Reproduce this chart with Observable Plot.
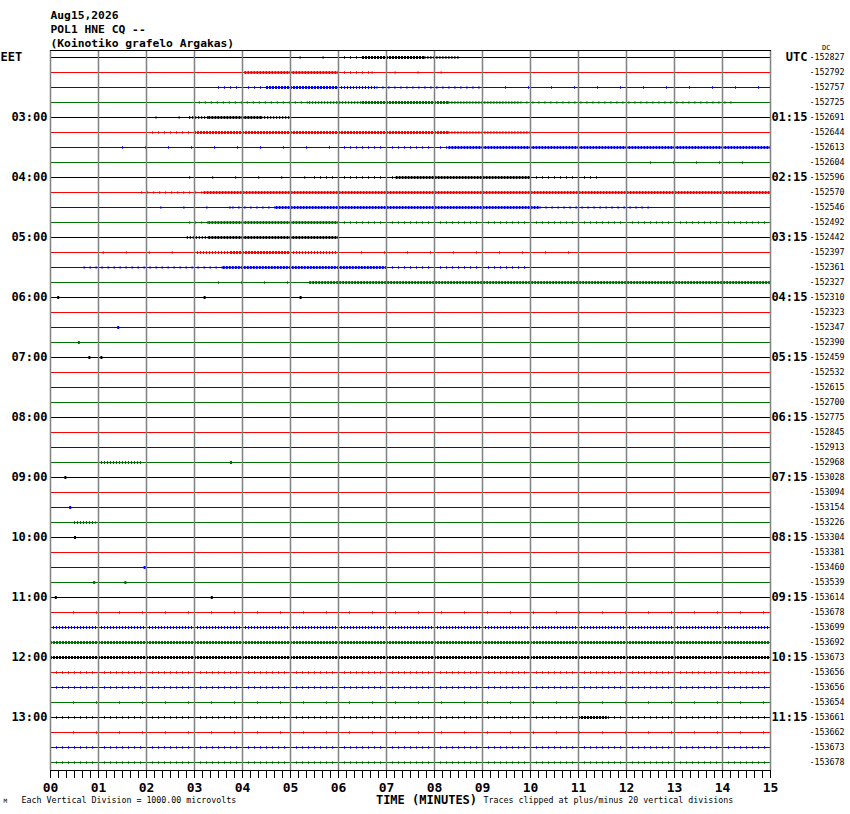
<!DOCTYPE html>
<html>
<head>
<meta charset="utf-8">
<script src="https://cdn.jsdelivr.net/npm/d3@7"></script>
<script src="https://cdn.jsdelivr.net/npm/@observablehq/plot@0.6"></script>
<style>
  html, body { margin: 0; padding: 0; background: #fff; }
  #chart { width: 850px; height: 814px; }
</style>
</head>
<body>
<div id="chart"></div>
<script>
// ---- data ----
const titleLines = ["Aug15,2026", "POL1 HNE CQ --", "(Koinotiko grafelo Argakas)"];
const traceColors = ["#000000", "#ff0000", "#0000ff", "#007000"];
const dcValues = [-152827,-152792,-152757,-152725,-152691,-152644,-152613,-152604,
  -152596,-152570,-152546,-152492,-152442,-152397,-152361,-152327,
  -152310,-152323,-152347,-152390,-152459,-152532,-152615,-152700,
  -152775,-152845,-152913,-152968,-153028,-153094,-153154,-153226,
  -153304,-153381,-153460,-153539,-153614,-153678,-153699,-153692,
  -153673,-153656,-153656,-153654,-153661,-153662,-153673,-153678];
const hourRows = [0,4,8,12,16,20,24,28,32,36,40,44];
const eetLabels = ["EET","03:00","04:00","05:00","06:00","07:00","08:00","09:00","10:00","11:00","12:00","13:00"];
const utcLabels = ["UTC","01:15","02:15","03:15","04:15","05:15","06:15","07:15","08:15","09:15","10:15","11:15"];
const minuteLabels = ["00","01","02","03","04","05","06","07","08","09","10","11","12","13","14","15"];
// activity segments: [trace row, start minute, end minute, density level 0..3]
const activity = [
 [0,5.2,6.0,0],[0,6.0,6.5,1],[0,6.5,7.8,3],[0,7.8,8.55,2],
 [1,4.05,6.0,3],[1,6.0,6.7,1],[1,6.7,8.3,0],
 [2,3.5,4.5,1],[2,4.5,6.0,3],[2,6.0,6.8,2],[2,6.8,9.0,1],[2,9.0,14.8,0],
 [3,3.1,5.4,1],[3,5.4,6.5,2],[3,6.5,8.3,3],[3,8.3,9.8,2],[3,9.8,14.2,1],
 [4,2.2,2.9,0],[4,2.9,3.3,2],[4,3.3,4.4,3],[4,4.4,5.0,2],
 [5,2.0,3.0,1],[5,3.0,8.3,3],[5,8.3,10.0,2],
 [6,1.5,6.0,0],[6,6.0,8.3,1],[6,8.3,15,3],
 [7,12.5,14.5,0],
 [8,2.9,5.5,0],[8,5.5,7.2,1],[8,7.2,10.0,3],[8,10.0,11.5,1],
 [9,1.9,3.2,1],[9,3.2,15,3],
 [10,2.3,3.8,0],[10,3.8,4.7,1],[10,4.7,10.2,3],[10,10.2,12.5,1],
 [11,2.9,3.3,1],[11,3.3,6.0,3],[11,6.0,15,1],
 [12,2.85,3.3,2],[12,3.3,6.0,3],
 [13,1.1,3.0,0],[13,3.0,3.75,2],[13,3.75,5.0,3],[13,5.0,6.0,2],[13,6.0,11.0,0],
 [14,0.7,3.6,1],[14,3.6,7.0,3],[14,7.0,10.0,1],
 [15,3.5,5.4,0],[15,5.4,15,3],
 [16,0.15,0.2,3],[16,3.2,3.25,3],[16,5.2,5.25,3],
 [18,1.4,1.45,3],[19,0.58,0.63,3],[20,0.8,0.85,3],[20,1.05,1.1,3],
 [27,1.0,1.9,2],[27,3.75,3.8,3],
 [28,0.3,0.35,3],[30,0.4,0.45,3],[31,0.5,0.95,2],[32,0.5,0.55,3],
 [34,1.95,2.0,3],[35,0.9,0.95,3],[35,1.55,1.6,3],[36,0.1,0.15,3],[36,3.35,3.4,3],
 [37,0,15,0],[38,0,15,2],[39,0,15,3],[40,0,15,3],[41,0,15,1],[42,0,15,1],
 [43,0,15,0],[44,0,15,1],[44,11.0,11.6,3],[45,0,15,0],[46,0,15,1],[47,0,15,1]
];

// ---- derived tables ----
const rows = d3.range(dcValues.length);
const hours = hourRows.map((r, i) => ({row: r, eet: eetLabels[i], utc: utcLabels[i]}));
const segs = activity.map(([row, x0, x1, level]) => ({row, x0, x1, level, color: traceColors[row % 4]}));
const levelStyle = {
  3: {strokeWidth: 3, strokeDasharray: "2 1"},
  2: {strokeWidth: 3, strokeDasharray: "1 2"},
  1: {strokeWidth: 2.5, strokeDasharray: "1 5"},
  0: {strokeWidth: 2.5, strokeDasharray: "1 22"}
};
const mono = "DejaVu Sans Mono, monospace";
const off = 7 / 15;
const T = {fill: "#000", lineAnchor: "middle"};

const chart = Plot.plot({
  width: 850,
  height: 814,
  marginLeft: 50,
  marginRight: 80,
  marginTop: 50,
  marginBottom: 44,
  style: {background: "#fff", fontFamily: mono},
  x: {domain: [0, 15], axis: null},
  y: {domain: [-off, rows.length - off], reverse: true, axis: null},
  color: {type: "identity"},
  marks: [
    // base traces
    Plot.ruleY(rows, {y: d => d, stroke: d => traceColors[d % 4], strokeWidth: 1}),
    // activity (spikes)
    ...[0, 1, 2, 3].map(l => Plot.ruleY(segs.filter(s => s.level === l), {
      y: "row", x1: "x0", x2: "x1", stroke: "color", ...levelStyle[l]
    })),
    // minute grid
    Plot.ruleX(d3.range(16), {stroke: "#808080", strokeWidth: 1.5}),
    Plot.frame({anchor: "top", stroke: "#000"}),
    Plot.frame({anchor: "bottom", stroke: "#000"}),
    // 10-second ticks
    Plot.axisX({ticks: d3.range(0, 91).map(i => i / 6), tickSize: 8, tickFormat: () => "", stroke: "#000", strokeWidth: 1}),
    Plot.text(minuteLabels, {...T, x: d => +d, frameAnchor: "bottom", dy: 17, fontSize: 13, fontWeight: "bold"}),
    // left hour labels
    Plot.text(hours.filter(d => d.row > 0), {...T, frameAnchor: "left", y: "row", text: "eet", textAnchor: "end", dx: -3, fontSize: 12, fontWeight: "bold"}),
    Plot.text(hours.filter(d => d.row === 0), {...T, frameAnchor: "left", y: "row", text: "eet", textAnchor: "start", dx: -50, fontSize: 12, fontWeight: "bold"}),
    // right UTC labels
    Plot.text(hours, {...T, frameAnchor: "right", y: "row", text: "utc", textAnchor: "end", dx: 37, fontSize: 12, fontWeight: "bold"}),
    // DC values
    Plot.text(rows, {...T, frameAnchor: "right", y: d => d, text: d => String(dcValues[d]), textAnchor: "start", dx: 39, fontSize: 8.3}),
    Plot.text(["DC"], {...T, frameAnchor: "top-right", dx: 60, dy: -3, fontSize: 7}),
    // title
    Plot.text([titleLines.join("\n")], {fill: "#000", frameAnchor: "top-left", textAnchor: "start", lineAnchor: "top", dy: -41, lineHeight: 1.24, fontSize: 11.3, fontWeight: "bold"}),
    // bottom texts
    Plot.text(["TIME (MINUTES)"], {...T, frameAnchor: "bottom", dx: 16, dy: 30, fontSize: 12, fontWeight: "bold"}),
    Plot.text(["Each Vertical Division = 1000.00 microvolts"], {...T, frameAnchor: "bottom-left", textAnchor: "start", dx: -29, dy: 30, fontSize: 8.3}),
    Plot.text(["Traces clipped at plus/minus 20 vertical divisions"], {...T, frameAnchor: "bottom", textAnchor: "start", dx: 73, dy: 30, fontSize: 8.3}),
    Plot.text(["M"], {...T, frameAnchor: "bottom-left", textAnchor: "start", dx: -47, dy: 31, fontSize: 6})
  ]
});
document.getElementById("chart").appendChild(chart);
</script>
</body>
</html>
